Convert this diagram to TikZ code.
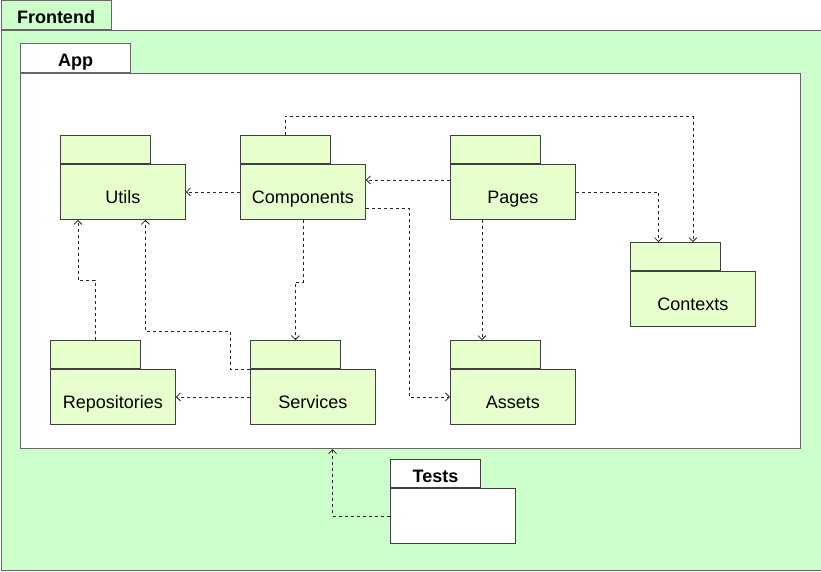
\documentclass[tikz,border=0pt]{standalone}
\usepackage{fontspec}
\setmainfont{Liberation Sans}
\usepackage{tikz}
\usetikzlibrary{arrows.meta,calc}
\definecolor{frontfill}{HTML}{CCFFCC}
\definecolor{pkgfill}{HTML}{E6FFCC}

\begin{document}
\begin{tikzpicture}[x=1pt,y=-1pt]
  \tikzset{
    frame/.style={draw=black!60, line width=1pt, inner sep=0pt},
    tabbox/.style={draw=black!75, fill=pkgfill, line width=0.9pt, minimum width=90pt, minimum height=28pt, anchor=south west, inner sep=0pt},
    pkg/.style={draw=black!75, fill=pkgfill, line width=0.9pt, minimum width=125pt, minimum height=55pt, anchor=north west, inner sep=0pt,
      font=\fontsize{18}{20}\selectfont, text height=26pt, text depth=3pt},
    hdr/.style={font=\fontsize{18}{20}\selectfont\bfseries, text height=20pt, text depth=3pt},
    dep/.style={black!85, dash pattern=on 3pt off 3pt, line width=0.8pt, -{Straight Barb[length=4pt,width=8pt]}}
  }
  \useasboundingbox (0,0) rectangle (821,571);

  % Frontend and App containers
  \node[frame, fill=frontfill, minimum width=820pt, minimum height=540pt, anchor=north west] (front) at (0.5,30) {};
  \node[frame, fill=frontfill, minimum width=110pt, minimum height=29.5pt, anchor=south west, hdr] (fronttab) at (front.north west) {Frontend};
  \node[frame, fill=white, minimum width=780pt, minimum height=375pt, anchor=north west] (app) at (20,73) {};
  \node[frame, fill=white, minimum width=110pt, minimum height=29pt, anchor=south west, hdr] (apptab) at (app.north west) {App};

  % Packages
  \node[pkg] (utils) at (60,164) {Utils};
  \node[tabbox] (utilstab) at (utils.north west) {};
  \node[pkg] (comp) at (240,164) {Components};
  \node[tabbox] (comptab) at (comp.north west) {};
  \node[pkg] (pages) at (450,164) {Pages};
  \node[tabbox] (pagestab) at (pages.north west) {};
  \node[pkg] (ctx) at (630,271) {Contexts};
  \node[tabbox] (ctxtab) at (ctx.north west) {};
  \node[pkg] (repo) at (50,369) {Repositories};
  \node[tabbox] (repotab) at (repo.north west) {};
  \node[pkg] (srv) at (250,369) {Services};
  \node[tabbox] (srvtab) at (srv.north west) {};
  \node[pkg] (assets) at (450,369) {Assets};
  \node[tabbox] (assetstab) at (assets.north west) {};

  % Tests package
  \node[pkg, fill=white] (tests) at (390,488) {};
  \node[tabbox, fill=white, hdr] (teststab) at (tests.north west) {Tests};

  % Dependencies
  \draw[dep] (comp.west) -- (utils.east);
  \draw[dep] (comptab.north) -- ++(0,-19) -| (ctx.north |- ctxtab.north);
  \draw[dep] ([yshift=12pt]pages.west) -- ([yshift=12pt]comp.east);
  \draw[dep] (pages.east) -| ([xshift=-17pt]ctxtab.north);
  \draw[dep] ([xshift=-31pt]pages.south) -- ([xshift=-31pt]pages.south |- assetstab.north);
  \draw[dep] ([yshift=-16pt]comp.east) -- ++(43,0) |- (assets.west);
  \draw[dep] (comp.south) -- ++(0,62) -| (srvtab.north);
  \draw[dep] (srv.west) -- (repo.east);
  \draw[dep] (srv.north west) -- ++(-20,0) -- ++(0,-38) -| ([xshift=22.5pt]utils.south);
  \draw[dep] (repotab.north) -- ++(0,-60) -| ([xshift=-45pt]utils.south);
  \draw[dep] (tests.west) -| ([xshift=-78pt]app.south);
\end{tikzpicture}
\end{document}
